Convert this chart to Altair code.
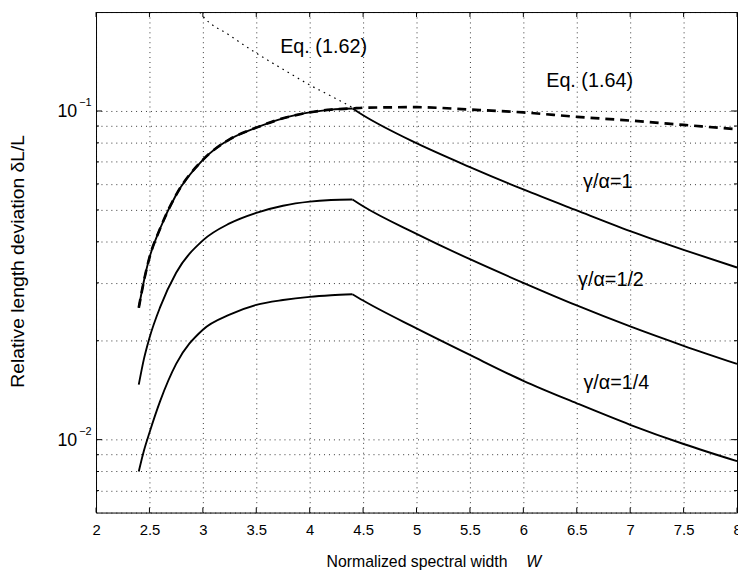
import altair as alt
import pandas as pd

# ---- data ----
W_RISE = [2.4, 2.45, 2.5, 2.6, 2.75, 3.0, 3.25, 3.5, 3.75, 4.0, 4.2, 4.4]
W_FALL = [4.4, 4.5, 5.0, 5.5, 6.0, 6.5, 7.0, 7.5, 8.0]

G1_RISE = [0.0252, 0.0306, 0.0358, 0.0439, 0.0556, 0.0710, 0.0820, 0.0890, 0.0950, 0.0990, 0.1010, 0.1018]
G1_FALL = [0.1018, 0.0971, 0.0798, 0.0675, 0.0577, 0.0498, 0.0431, 0.0378, 0.0334]

G2_RISE = [0.0147, 0.0177, 0.0204, 0.0253, 0.0322, 0.0404, 0.0455, 0.0490, 0.0515, 0.0530, 0.0536, 0.0538]
G2_FALL = [0.0538, 0.0513, 0.0423, 0.0354, 0.0300, 0.0256, 0.0221, 0.0193, 0.0170]

G4_RISE = [0.0080, 0.0093, 0.0105, 0.0131, 0.0170, 0.0216, 0.0240, 0.0257, 0.0266, 0.0272, 0.0275, 0.0277]
G4_FALL = [0.0277, 0.0265, 0.0218, 0.0181, 0.0151, 0.0129, 0.0111, 0.0097, 0.0086]

EQ164_W = [2.4, 2.45, 2.5, 2.6, 2.75, 3.0, 3.25, 3.5, 3.75, 4.0, 4.2, 4.4, 4.5, 5.0, 5.5, 6.0, 6.5, 7.0, 7.5, 8.0]
EQ164_V = [0.0252, 0.0306, 0.0358, 0.0439, 0.0556, 0.0710, 0.0820, 0.0890, 0.0950, 0.0990, 0.1010, 0.1018,
           0.1023, 0.1027, 0.1010, 0.0990, 0.0960, 0.0935, 0.0907, 0.0880]

EQ162_W = [2.97, 3.0, 3.25, 3.5, 3.75, 4.0, 4.2, 4.4]
EQ162_V = [0.200, 0.1944, 0.170, 0.150, 0.134, 0.120, 0.111, 0.1025]

X_TICKS = [2, 2.5, 3, 3.5, 4, 4.5, 5, 5.5, 6, 6.5, 7, 7.5, 8]
Y_GRID = [0.006, 0.007, 0.008, 0.009, 0.01, 0.02, 0.03, 0.04, 0.05, 0.06, 0.07, 0.08, 0.09, 0.1, 0.2]
Y_MAJOR = [0.01, 0.1]
Y_EXP = ["\u22122", "\u22121"]
Y_MINOR = [0.007, 0.008, 0.009, 0.02, 0.03, 0.04, 0.05, 0.06, 0.07, 0.08, 0.09]

LABEL_TEXT = ["Eq. (1.62)", "Eq. (1.64)", "\u03b3/\u03b1=1", "\u03b3/\u03b1=1/2", "\u03b3/\u03b1=1/4"]
LABEL_W = [4.13, 6.62, 6.79, 6.82, 6.87]
LABEL_V = [0.156, 0.1236, 0.0607, 0.0305, 0.01486]

FONT = "Liberation Sans"
WIDTH, HEIGHT = 648, 506

# ---- tables ----
rows = []
def add(name, ws, vs):
    for w, v in zip(ws, vs):
        rows.append({"series": name, "W": w, "v": v})

add("g1_rise", W_RISE, G1_RISE)
add("g1_fall", W_FALL, G1_FALL)
add("g2_rise", W_RISE, G2_RISE)
add("g2_fall", W_FALL, G2_FALL)
add("g4_rise", W_RISE, G4_RISE)
add("g4_fall", W_FALL, G4_FALL)
solid = pd.DataFrame(rows)
dashed = pd.DataFrame({"W": EQ164_W, "v": EQ164_V})
dotted = pd.DataFrame({"W": EQ162_W, "v": EQ162_V})
labels = pd.DataFrame({"W": LABEL_W, "v": LABEL_V, "t": LABEL_TEXT})
xt = pd.DataFrame({"W": X_TICKS})
ymaj = pd.DataFrame({"v": Y_MAJOR, "e": Y_EXP})
ymin = pd.DataFrame({"v": Y_MINOR})

xscale = alt.Scale(domain=[2, 8], nice=False, zero=False)
yscale = alt.Scale(type="log", domain=[0.006, 0.2], nice=False)

x_axis = alt.Axis(values=X_TICKS, grid=True, gridDash=[1, 4], gridColor="#000", gridOpacity=0.8,
                  ticks=False, domain=False, labels=True, labelFontSize=15, labelFont=FONT,
                  labelColor="black", labelPadding=10, labelFlush=False, labelOverlap=False,
                  format="~g", title=None)
y_axis = alt.Axis(values=Y_GRID, grid=True, gridDash=[1, 4], gridColor="#000", gridOpacity=0.8,
                  ticks=False, domain=False, labels=False, title=None)

X = alt.X("W:Q", scale=xscale, axis=x_axis)
Y = alt.Y("v:Q", scale=yscale, axis=y_axis)

solid_layer = alt.Chart(solid).mark_line(color="black", strokeWidth=1.9, clip=True, interpolate="monotone").encode(
    x=X, y=Y, detail="series:N")
dashed_layer = alt.Chart(dashed).mark_line(color="black", strokeWidth=2.7, strokeDash=[9, 6], clip=True,
                                           interpolate="monotone").encode(x=X, y=Y)
dotted_layer = alt.Chart(dotted).mark_line(color="black", strokeWidth=1.2, strokeDash=[1.6, 4.4], clip=True,
                                           interpolate="monotone").encode(x=X, y=Y)
text_layer = alt.Chart(labels).mark_text(font=FONT, fontSize=20, color="black", align="center",
                                         baseline="middle").encode(x=X, y=Y, text="t:N")

# inward ticks
xt_bottom = alt.Chart(xt).mark_rule(color="black", strokeWidth=1).encode(
    x=X, y=alt.value(HEIGHT), y2=alt.value(HEIGHT - 5))
xt_top = alt.Chart(xt).mark_rule(color="black", strokeWidth=1).encode(
    x=X, y=alt.value(0), y2=alt.value(5))
ymaj_left = alt.Chart(ymaj).mark_rule(color="black", strokeWidth=1).encode(
    y=Y, x=alt.value(0), x2=alt.value(6))
ymaj_right = alt.Chart(ymaj).mark_rule(color="black", strokeWidth=1).encode(
    y=Y, x=alt.value(WIDTH), x2=alt.value(WIDTH - 6))
ymin_left = alt.Chart(ymin).mark_rule(color="black", strokeWidth=1).encode(
    y=Y, x=alt.value(0), x2=alt.value(3))
ymin_right = alt.Chart(ymin).mark_rule(color="black", strokeWidth=1).encode(
    y=Y, x=alt.value(WIDTH), x2=alt.value(WIDTH - 3))

# y tick labels 10^-1, 10^-2
ylab_base = alt.Chart(ymaj).mark_text(font=FONT, fontSize=18, color="black", align="right",
                                      baseline="middle", dy=1).encode(y=Y, x=alt.value(-19), text=alt.value("10"))
ylab_exp = alt.Chart(ymaj).mark_text(font=FONT, fontSize=11, color="black", align="left",
                                     baseline="middle", dy=-8).encode(y=Y, x=alt.value(-17), text="e:N")

# axis titles as text
title_df = pd.DataFrame({"a": [0]})
xtitle_main = alt.Chart(title_df).mark_text(font=FONT, fontSize=16, color="black", align="right",
                                            baseline="middle").encode(
    x=alt.value(416), y=alt.value(556), text=alt.value("Normalized spectral width"))
xtitle_w = alt.Chart(title_df).mark_text(font=FONT, fontSize=16, fontStyle="italic", color="black",
                                         align="left", baseline="middle").encode(
    x=alt.value(435), y=alt.value(556), text=alt.value("W"))
ytitle = alt.Chart(title_df).mark_text(font=FONT, fontSize=19.5, color="black", align="center",
                                       baseline="middle", angle=270).encode(
    x=alt.value(-79), y=alt.value(252), text=alt.value("Relative length deviation \u03b4L/L"))

chart = alt.layer(
    solid_layer, dashed_layer, dotted_layer, text_layer,
    xt_bottom, xt_top, ymaj_left, ymaj_right, ymin_left, ymin_right,
    ylab_base, ylab_exp, xtitle_main, xtitle_w, ytitle
).properties(
    width=WIDTH, height=HEIGHT,
    autosize=alt.AutoSizeParams(type="none"),
    padding={"left": 89, "top": 1, "right": 1, "bottom": 58},
    background="white",
).configure_view(stroke="black", strokeWidth=1)

chart.save("out.html", embed_options={"renderer": "svg", "actions": False})
